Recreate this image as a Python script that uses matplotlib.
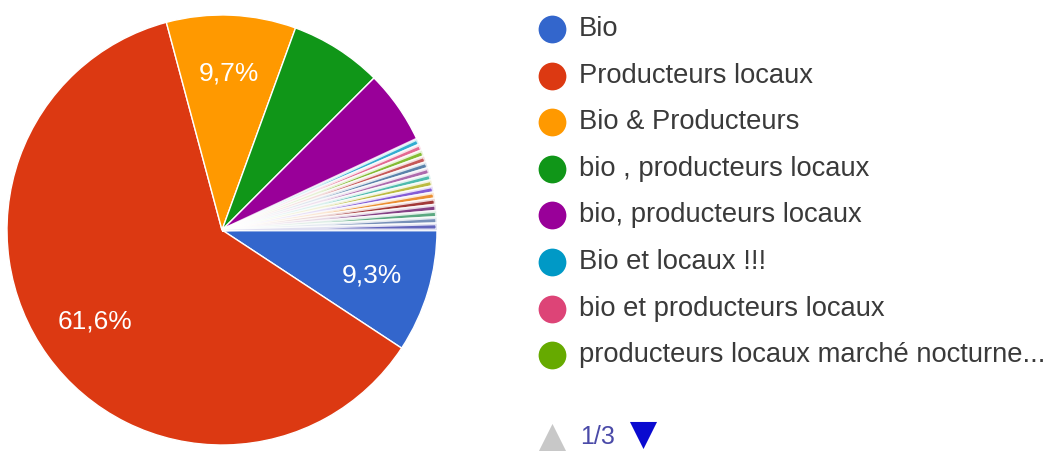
"""
Pie of answers (Bio / Producteurs locaux ...), Google Forms style, page 1/3 of legend.
"""
import matplotlib.pyplot as plt

# responses per answer, 216 in total; the tail is single answers (legend pages 2-3)
counts = [20, 133, 21, 15, 12, 1, 1, 1, 1, 1, 1, 1, 1, 1, 1, 1, 1, 1, 1, 1]
colors = ["#3366cc", "#dc3912", "#ff9900", "#109618", "#990099", "#0099c6",
          "#dd4477", "#66aa00", "#b82e2e", "#316395", "#994499", "#22aa99",
          "#aaaa11", "#6633cc", "#e67300", "#8b0707", "#651067", "#329262",
          "#5574a6", "#3b3eac"]
legend_labels = ["Bio", "Producteurs locaux", "Bio & Producteurs",
                 "bio , producteurs locaux", "bio, producteurs locaux",
                 "Bio et locaux !!!", "bio et producteurs locaux",
                 "producteurs locaux marché nocturne..."]
page_label = "1/3"

W, H = 1062, 451
plt.rcParams["font.family"] = ["Liberation Sans", "DejaVu Sans"]
fig = plt.figure(figsize=(W / 100, H / 100), dpi=100)

# pie: centre (222, 230) px, radius 215 px
cx, cy, r = 222, 230, 215
ax = fig.add_axes([(cx - r) / W, (H - cy - r) / H, 2 * r / W, 2 * r / H])


def pct_label(p):
    return f"{p:.1f}".replace(".", ",") + "%" if p > 8 else ""


wedges, texts, autotexts = ax.pie(
    counts, colors=colors, startangle=0, counterclock=False,
    autopct=pct_label, pctdistance=0.73,
    wedgeprops=dict(edgecolor="white", linewidth=1.0),
    textprops=dict(color="white", fontsize=19),
)
for w, c in zip(wedges, counts):
    w.set_clip_on(False)
    if c == 1:
        w.set_linewidth(2.2)
        w.set_alpha(0.8)
ax.set_xlim(-1, 1)
ax.set_ylim(-1, 1)
ax.axis("off")

# legend + page navigation, drawn in pixel coordinates
lg = fig.add_axes([0, 0, 1, 1])
lg.set_xlim(0, W)
lg.set_ylim(H, 0)
lg.axis("off")
for i, lab in enumerate(legend_labels):
    y = 29 + 46.6 * i
    lg.scatter(552, y, s=400, color=colors[i], linewidths=0)
    lg.text(579, y, lab, fontsize=19.7, color="#3a3a3a", va="center", ha="left")

lg.scatter(552, 438, s=440, marker="^", color="#c8c8c8", linewidths=0, clip_on=False)
lg.text(580, 437, page_label, fontsize=18, color="#4a4aa8", va="center", ha="left")
lg.scatter(643, 435, s=380, marker="v", color="#0a0ad0", linewidths=0, clip_on=False)

plt.savefig("out.png", dpi=100)
